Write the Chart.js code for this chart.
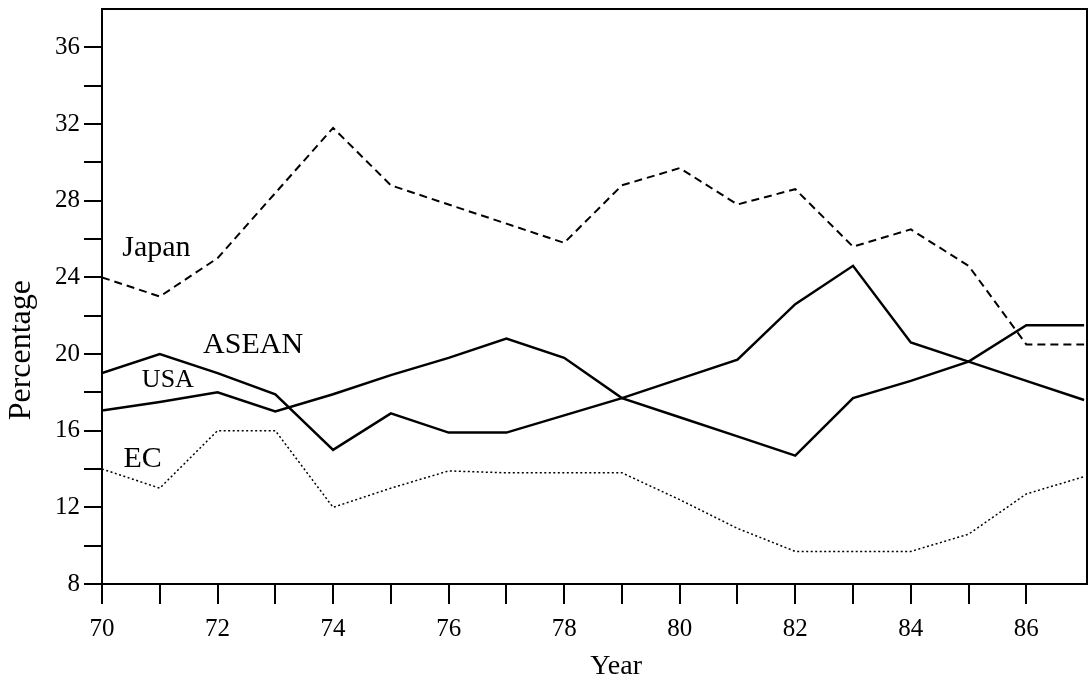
<!DOCTYPE html>
<html>
<head>
<meta charset="utf-8">
<script src="https://cdn.jsdelivr.net/npm/chart.js@4/dist/chart.umd.min.js"></script>
<style>
  html, body { margin: 0; padding: 0; background: #ffffff; }
  #wrap { width: 1090px; height: 685px; }
</style>
</head>
<body>
<div id="wrap"><canvas id="c" width="1090" height="685"></canvas></div>
<script>
// ---- data ----
const years = [70, 71, 72, 73, 74, 75, 76, 77, 78, 79, 80, 81, 82, 83, 84, 85, 86, 87];
const japan = [24.0, 23.0, 25.0, 28.4, 31.8, 28.8, 27.8, 26.8, 25.8, 28.8, 29.7, 27.8, 28.6, 25.6, 26.5, 24.6, 20.5, 20.5];
const asean = [19.0, 20.0, 19.0, 17.9, 15.0, 16.9, 15.9, 15.9, 16.8, 17.7, 18.7, 19.7, 22.6, 24.6, 20.6, 19.6, 18.6, 17.6];
const usa   = [17.05, 17.5, 18.0, 17.0, 17.9, 18.9, 19.8, 20.8, 19.8, 17.7, 16.7, 15.7, 14.7, 17.7, 18.6, 19.6, 21.5, 21.5];
const ec    = [14.0, 13.0, 16.0, 16.0, 12.0, 13.0, 13.9, 13.8, 13.8, 13.8, 12.4, 10.9, 9.7, 9.7, 9.7, 10.6, 12.7, 13.6];

const yTickValues = [8, 12, 16, 20, 24, 28, 32, 36];
const xTickLabels = [70, 72, 74, 76, 78, 80, 82, 84, 86];

// series name labels written inside the plot: text, year, value
const seriesLabelText = ['Japan', 'ASEAN', 'USA', 'EC'];
const seriesLabelYear = [70.35, 71.75, 70.69, 70.37];
const seriesLabelValue = [25.1, 20.04, 18.27, 14.1];

const xTitle = 'Year';
const yTitle = 'Percentage';

const FONT = '"Liberation Serif", "Times New Roman", serif';

const toPts = arr => years.map((y, i) => ({ x: y, y: arr[i] }));

const decorPlugin = {
  id: 'decor',
  afterDraw(chart) {
    const { ctx, chartArea, scales } = chart;
    const xs = scales.x, ys = scales.y;
    ctx.save();
    // frame top and right
    ctx.strokeStyle = '#000';
    ctx.lineWidth = 2;
    ctx.beginPath();
    ctx.moveTo(chartArea.left, chartArea.top);
    ctx.lineTo(chartArea.right, chartArea.top);
    ctx.lineTo(chartArea.right, chartArea.bottom);
    ctx.stroke();

    // series labels
    ctx.fillStyle = '#000';
    ctx.textBaseline = 'alphabetic';
    ctx.textAlign = 'left';
    seriesLabelText.forEach((t, i) => {
      const size = t === 'USA' ? 26 : 30;
      ctx.font = size + 'px ' + FONT;
      ctx.fillText(t, xs.getPixelForValue(seriesLabelYear[i]), ys.getPixelForValue(seriesLabelValue[i]));
    });

    // axis titles
    ctx.textAlign = 'center';
    ctx.textBaseline = 'middle';
    ctx.font = '28px ' + FONT;
    ctx.fillText(xTitle, xs.getPixelForValue(78.9), 667);
    ctx.save();
    ctx.translate(22, ys.getPixelForValue(20.2));
    ctx.rotate(-Math.PI / 2);
    ctx.font = '32px ' + FONT;
    ctx.fillText(yTitle, 0, 0);
    ctx.restore();
    ctx.restore();
  }
};

new Chart(document.getElementById('c'), {
  type: 'line',
  data: {
    datasets: [
      { label: 'Japan', data: toPts(japan), borderColor: '#000', borderWidth: 2, borderDash: [8, 5], pointRadius: 0, tension: 0, fill: false },
      { label: 'ASEAN', data: toPts(asean), borderColor: '#000', borderWidth: 2.5, pointRadius: 0, tension: 0, fill: false },
      { label: 'USA', data: toPts(usa), borderColor: '#000', borderWidth: 2.5, pointRadius: 0, tension: 0, fill: false },
      { label: 'EC', data: toPts(ec), borderColor: '#000', borderWidth: 1.5, borderDash: [2, 2.5], pointRadius: 0, tension: 0, fill: false }
    ]
  },
  options: {
    responsive: false,
    animation: false,
    devicePixelRatio: 1,
    layout: { padding: { top: 9, right: 3, left: 0, bottom: 0 } },
    plugins: { legend: { display: false }, tooltip: { enabled: false }, title: { display: false } },
    scales: {
      x: {
        type: 'linear',
        min: 70,
        max: 87.05,
        afterBuildTicks(scale) { scale.ticks = scale.ticks.filter(t => t.value <= 86); },
        afterFit(scale) { scale.height = 101; scale.paddingLeft = 0; scale.paddingRight = 0; },
        ticks: {
          stepSize: 1,
          includeBounds: false,
          autoSkip: false,
          maxRotation: 0,
          color: '#000',
          padding: 10,
          font: { family: FONT, size: 25 },
          callback: v => (xTickLabels.includes(v) ? String(v) : '')
        },
        grid: { drawOnChartArea: false, drawTicks: true, tickLength: 20, color: '#000', lineWidth: 2 },
        border: { display: true, color: '#000', width: 2 }
      },
      y: {
        type: 'linear',
        min: 8,
        max: 38,
        afterBuildTicks(scale) { scale.ticks = scale.ticks.filter(t => t.value <= 36); },
        afterFit(scale) { scale.width = 102; scale.paddingTop = 0; scale.paddingBottom = 0; },
        ticks: {
          stepSize: 2,
          includeBounds: false,
          autoSkip: false,
          color: '#000',
          padding: 4,
          font: { family: FONT, size: 25 },
          callback: v => (yTickValues.includes(v) ? String(v) : '')
        },
        grid: { drawOnChartArea: false, drawTicks: true, tickLength: 18, color: '#000', lineWidth: 2 },
        border: { display: true, color: '#000', width: 2 }
      }
    }
  },
  plugins: [decorPlugin]
});
</script>
</body>
</html>
